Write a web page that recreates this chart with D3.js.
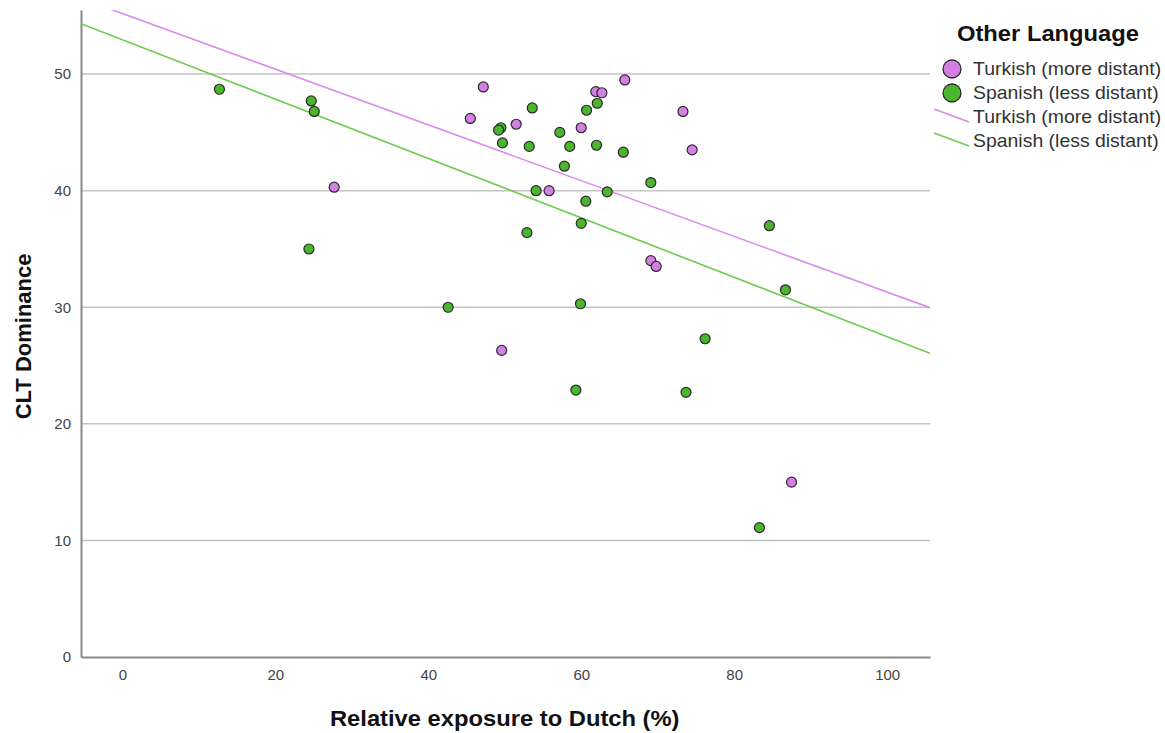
<!DOCTYPE html>
<html>
<head>
<meta charset="utf-8">
<script src="https://cdn.jsdelivr.net/npm/d3@7"></script>
<style>
	body { margin: 0; background: #fff; }
	svg { font-family: "Liberation Sans", Arial, sans-serif; }
	.grid line { stroke: #c4c4c4; stroke-width: 1.5; }
	.tick text { fill: #444; font-size: 15px; }
</style>
</head>
<body>
<div id="chart"></div>
<script>
	// exposure to Dutch (%) / CLT dominance
	var turkishX = [27.7, 45.5, 47.2, 51.5, 55.8, 60.0, 61.9, 62.7, 65.7, 73.3, 74.5, 69.1, 69.8, 49.6, 87.5];
	var turkishY = [40.3, 46.2, 48.9, 45.7, 40.0, 45.4, 48.5, 48.4, 49.5, 46.8, 43.5, 34.0, 33.5, 26.3, 15.0];

	var spanishX = [12.7, 24.7, 25.1, 24.4, 42.6, 49.5, 49.2, 49.7, 53.6, 53.2, 54.1, 52.9, 57.2, 58.5, 57.8,
		60.7, 62.1, 62.0, 60.6, 60.0, 63.4, 65.5, 69.1, 59.9, 59.3, 73.7, 76.2, 84.6, 86.7, 83.3];
	var spanishY = [48.7, 47.7, 46.8, 35.0, 30.0, 45.4, 45.2, 44.1, 47.1, 43.8, 40.0, 36.4, 45.0, 43.8, 42.1,
		46.9, 47.5, 43.9, 39.1, 37.2, 39.9, 43.3, 40.7, 30.3, 22.9, 22.7, 27.3, 37.0, 31.5, 11.1];

	// fit lines: [intercept, slope]
	var turkishFit = [55.2, -0.239];
	var spanishFit = [52.95, -0.2547];

	var xTicks = [0, 20, 40, 60, 80, 100];
	var yTicks = [0, 10, 20, 30, 40, 50];

	var groups = [
		{ name: 'Turkish (more distant)', xs: turkishX, ys: turkishY, fit: turkishFit, fill: '#d47fe3', line: '#d98be9' },
		{ name: 'Spanish (less distant)', xs: spanishX, ys: spanishY, fit: spanishFit, fill: '#4ab52d', line: '#6ccb4f' }
	];

	var margin = { left: 81, top: 10, right: 235, bottom: 76 };
	var width = 1165, height = 733;
	var innerW = width - margin.left - margin.right;
	var innerH = height - margin.top - margin.bottom;
	var stretch = 1.08;

	var x = d3.scaleLinear().domain([-5.4, 105.6]).range([0, innerW]);
	var y = d3.scaleLinear().domain([0, 55.5]).range([innerH, 0]);

	var svg = d3.select('#chart').append('svg')
		.attr('width', width)
		.attr('height', height);

	var plot = svg.append('g')
		.attr('transform', 'translate(' + margin.left + ',' + margin.top + ')');

	plot.append('clipPath').attr('id', 'clip')
		.append('rect').attr('width', innerW).attr('height', innerH);

	plot.append('g')
		.classed('grid', true)
		.selectAll('line')
		.data(yTicks.filter(function (t) { return t > 0; }))
		.enter().append('line')
		.attr('x1', 0).attr('x2', innerW)
		.attr('y1', function (t) { return y(t); })
		.attr('y2', function (t) { return y(t); });

	var xAxis = plot.append('g')
		.attr('transform', 'translate(0,' + innerH + ')')
		.call(d3.axisBottom(x).tickValues(xTicks).tickSize(0).tickPadding(12));
	xAxis.select('.domain').attr('stroke', '#888').attr('stroke-width', 2);

	var yAxis = plot.append('g')
		.call(d3.axisLeft(y).tickValues(yTicks).tickSize(0).tickPadding(10));
	yAxis.select('.domain').attr('stroke', '#888').attr('stroke-width', 2);

	// fit lines
	plot.append('g').attr('clip-path', 'url(#clip)')
		.selectAll('line')
		.data(groups)
		.enter().append('line')
		.attr('x1', x(x.domain()[0]))
		.attr('x2', x(x.domain()[1]))
		.attr('y1', function (g) { return y(g.fit[0] + g.fit[1] * x.domain()[0]); })
		.attr('y2', function (g) { return y(g.fit[0] + g.fit[1] * x.domain()[1]); })
		.attr('stroke', function (g) { return g.line; })
		.attr('stroke-width', 1.6);

	// points
	groups.forEach(function (g) {
		plot.append('g')
			.selectAll('circle')
			.data(g.xs.map(function (v, i) { return [v, g.ys[i]]; }))
			.enter().append('circle')
			.attr('cx', function (d) { return x(d[0]); })
			.attr('cy', function (d) { return y(d[1]); })
			.attr('r', 5)
			.attr('fill', g.fill)
			.attr('stroke', '#2a2a2a')
			.attr('stroke-width', 1.2);
	});

	// text drawn a little wider, as in the picture
	function wideText(parent, tx, ty, size, str) {
		return parent.append('text')
			.attr('transform', 'translate(' + tx + ',' + ty + ') scale(' + stretch + ',1)')
			.attr('font-size', size)
			.text(str);
	}

	// axis titles
	wideText(svg, margin.left + x(50), 726, 22, 'Relative exposure to Dutch (%)')
		.attr('text-anchor', 'middle')
		.attr('font-weight', 'bold')
		.attr('fill', '#111');

	svg.append('text')
		.attr('transform', 'translate(31,' + (margin.top + y(27.5)) + ') rotate(-90)')
		.attr('text-anchor', 'middle')
		.attr('font-size', 22)
		.attr('font-weight', 'bold')
		.attr('fill', '#111')
		.text('CLT Dominance');

	// legend
	var legend = svg.append('g').attr('transform', 'translate(933,0)');
	wideText(legend, 24, 41, 22, 'Other Language')
		.attr('font-weight', 'bold')
		.attr('fill', '#111');

	groups.forEach(function (g, i) {
		var cy = 69 + i * 24;
		legend.append('circle')
			.attr('cx', 19).attr('cy', cy).attr('r', 9)
			.attr('fill', g.fill)
			.attr('stroke', '#2a2a2a')
			.attr('stroke-width', 1.3);
		wideText(legend, 40, cy + 6, 18, g.name).attr('fill', '#333');
	});

	groups.forEach(function (g, i) {
		var cy = 117 + i * 24;
		legend.append('line')
			.attr('x1', 1).attr('y1', cy - 8)
			.attr('x2', 36).attr('y2', cy + 5)
			.attr('stroke', g.line)
			.attr('stroke-width', 1.6);
		wideText(legend, 40, cy + 6, 18, g.name).attr('fill', '#333');
	});
</script>
</body>
</html>
